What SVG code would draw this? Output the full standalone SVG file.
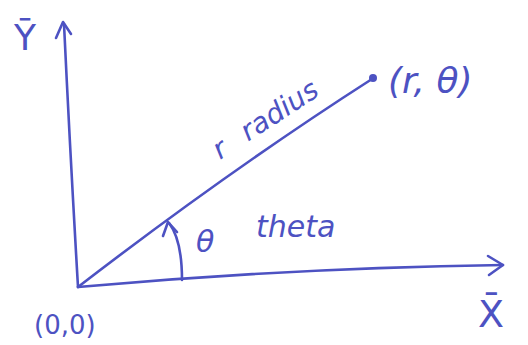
<svg xmlns="http://www.w3.org/2000/svg" width="528" height="345" viewBox="0 0 528 345">
<style>
.ln{fill:none;stroke:#4d52c2;stroke-width:2.6;stroke-linecap:round;stroke-linejoin:round}
.tx{fill:#4d52c2;font-family:"DejaVu Sans",sans-serif;font-style:italic}
.up{font-style:normal}
</style>
<rect width="528" height="345" fill="#fff"/>
<g id="connectors">
<path id="y-axis" class="ln" d="M78,287 Q70,150 64,24"/>
<path class="ln" d="M56,38 L63,22 L71,34"/>
<path id="x-axis" class="ln" d="M78,287 Q290,268 503,265"/>
<path class="ln" d="M488,256 L503,265 L489,275"/>
<path id="radius" class="ln" d="M78,287 Q230,170 372,79"/>
<path id="theta-arc" class="ln" d="M182,280 Q182,240 169,223"/>
<path class="ln" d="M163,236 L168,222 L177,232"/>
</g>
<g id="point"><circle cx="373" cy="78" r="4" fill="#4d52c2"/><text class="tx" x="388" y="93" font-size="36">(r, θ)</text></g>
<g id="radius-label" transform="translate(220,160) rotate(-33)"><text class="tx" font-size="28">r<tspan dx="22">radius</tspan></text></g>
<g id="theta-label"><text class="tx" x="196" y="252" font-size="30">θ</text><text class="tx" x="256" y="237" font-size="30">theta</text></g>
<g id="y-label"><text class="tx up" x="14" y="50" font-size="36">Ȳ</text></g>
<g id="x-label"><text class="tx up" x="478" y="327" font-size="38">X̄</text></g>
<g id="origin"><text class="tx up" x="34" y="334" font-size="26">(0,0)</text></g>
</svg>
